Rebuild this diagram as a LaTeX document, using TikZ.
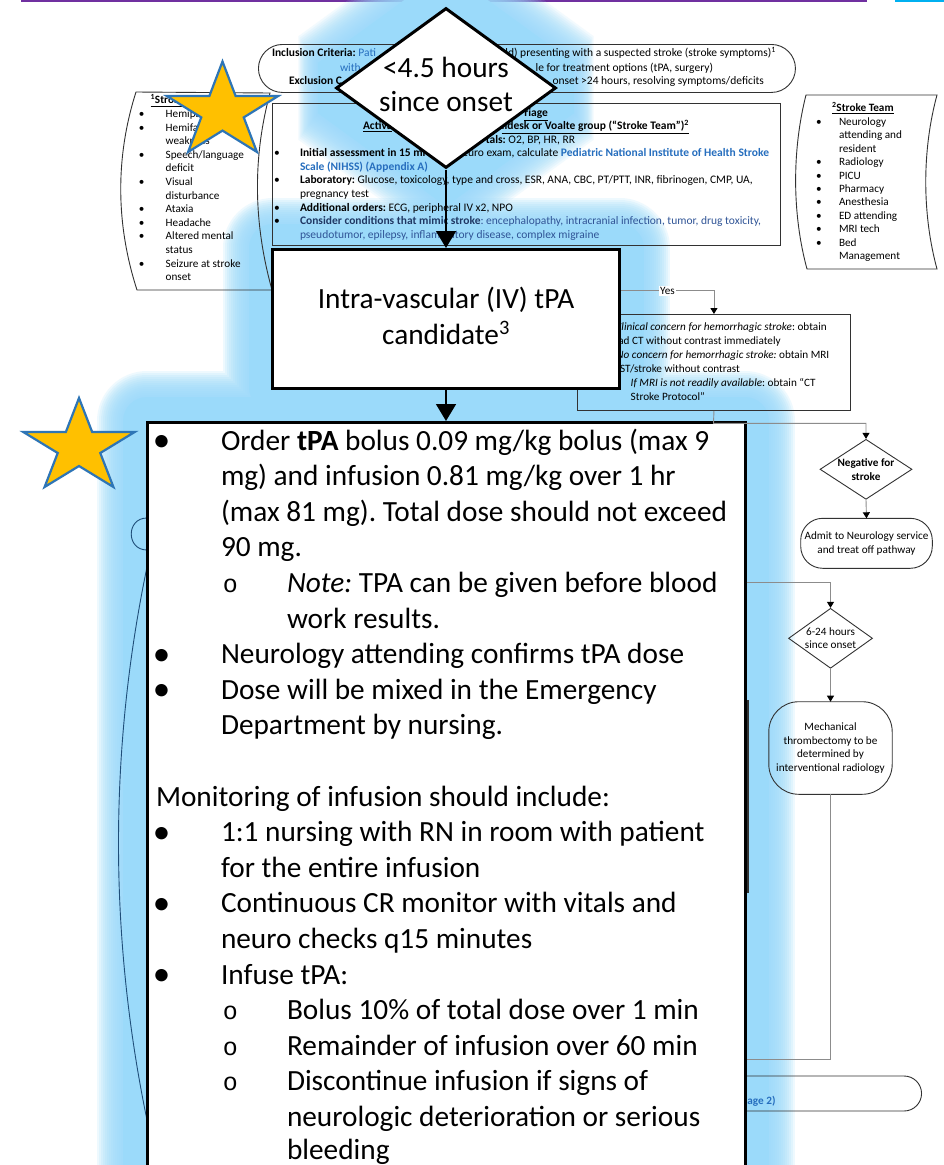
\documentclass[tikz,border=0pt]{standalone}
\usepackage{fontspec}
\setmainfont{Carlito}
\newfontfamily\couriero{Liberation Mono}
\usetikzlibrary{arrows.meta,shapes.geometric}
\frenchspacing

\definecolor{glowblue}{RGB}{155,218,250}
\definecolor{starfill}{RGB}{255,192,0}
\definecolor{starline}{RGB}{46,117,182}
\definecolor{linkblue}{RGB}{38,110,190}
\definecolor{navyblue}{RGB}{31,56,100}
\definecolor{midblue}{RGB}{47,84,150}
\definecolor{purplebar}{RGB}{112,48,160}
\definecolor{cyanbar}{RGB}{0,176,240}
\definecolor{chartgray}{RGB}{50,50,50}
\definecolor{conngray}{RGB}{140,140,140}
\definecolor{tealline}{RGB}{31,78,121}

\newcommand\smf{\fontsize{11.2}{13.6}\selectfont}
\newcommand\trf{\fontsize{11.5}{13.6}\selectfont}
\newcommand\bgf{\fontsize{29.3}{35.6}\selectfont}
\newcommand\bgbul{{\fontsize{35}{35}\selectfont\textbullet}}
\newcommand\bgsub{{\couriero\fontsize{25}{25}\selectfont o}}

\begin{document}
\begin{tikzpicture}[x=1pt,y=-1pt,
  smalltxt/.style={font=\smf, inner sep=0pt, outer sep=0pt},
  trtxt/.style={font=\trf, inner sep=0pt, outer sep=0pt},
  calltxt/.style={font=\bgf, inner sep=0pt, outer sep=0pt},
  chartline/.style={draw=chartgray, line width=0.9pt},
  conn/.style={draw=conngray, line width=0.9pt},
  tipsm/.style={-{Triangle[length=6pt,width=7pt,color=black]}},
  callout/.style={draw=black, line width=3pt, fill=white},
  bigarrow/.style={draw=black, line width=1.6pt, -{Triangle[length=17pt,width=20pt]}},
  staricon/.style={fill=starfill, draw=starline, line width=2.2pt},
  glowring/.style={draw=glowblue, draw opacity=#1},
]
\useasboundingbox (0,0) rectangle (944,1165);
\fill[white] (0,0) rectangle (944,1165);
\clip (0,0) rectangle (944,1165);

% page header rules
\fill[purplebar] (21,0) rectangle (867,2.2);
\fill[cyanbar] (895,0) rectangle (944,2.2);

% ---------- soft glow behind the highlighted steps ----------
\foreach \r in {64,62,...,32}{
  \draw[glowring=0.13, line width=2*\r, line join=miter, miter limit=1.5]
    (446,8) -- (556,88) -- (446,168) -- (336,88) -- cycle;
}
\path[fill=glowblue, draw=glowblue, line width=62, line join=miter, miter limit=1.5]
  (446,8) -- (556,88) -- (446,168) -- (336,88) -- cycle;
\foreach \r in {50,48,...,26}{
  \draw[glowring=0.16, line width=2*\r, line join=round]
    (272.5,248) rectangle (619.5,387) (147,421) rectangle (745,1300);
}
\path[fill=glowblue, draw=glowblue, line width=48, line join=round]
  (272.5,248) rectangle (619.5,387) (147,421) rectangle (745,1300);

% ---------- underlying pathway ----------
% inclusion / exclusion criteria
\node[chartline, rounded corners=24, minimum width=537, minimum height=48, anchor=north west, inner sep=0] (incl) at (258,44) {};
\node[trtxt, anchor=base west] (incA) at (272,56.8) {\textbf{Inclusion Criteria:} \textcolor{linkblue}{Pati}};
\node[trtxt, anchor=base east] (incB) at (776,56.8) {ld) presenting with a suspected stroke (stroke symptoms)\textsuperscript{1}};
\node[trtxt, anchor=base west] (incC) at (340,71.2) {\textcolor{linkblue}{with}};
\node[trtxt, anchor=base east] (incD) at (713,71.2) {le for treatment options (tPA, surgery)};
\node[trtxt, anchor=base west] (incE) at (289,84.5) {\textbf{Exclusion C}};
\node[trtxt, anchor=base east] (incF) at (764,84.5) {onset >24 hours, resolving symptoms/deficits};

% stroke symptoms panel
\draw[chartline] (136,92) -- (270,93) .. controls (252,160) and (254,225) .. (272,290)
  -- (137,290) .. controls (116,225) and (115,158) .. cycle;
\node[smalltxt, anchor=base west] (symH) at (150.5,103.5) {\underline{\textbf{\textsuperscript{1}Stroke Symptoms}}};
\foreach \k/\t in {0/Hemiparesis,1/Hemifacial,2/weakness,3/{Speech/language},4/deficit,5/Visual,6/disturbance,7/Ataxia,8/Headache,9/Altered mental,10/status,11/Seizure at stroke,12/onset}{
  \node[smalltxt, anchor=base west] (sym\k) at (165.7,117.5+13.6*\k) {\t};
}
\foreach \k in {0,1,3,5,7,8,9,11}{
  \node[smalltxt, anchor=base] (symb\k) at (141.7,117.5+13.6*\k) {\textbullet};
}

% stroke team panel
\draw[chartline] (806,95) -- (937,95) .. controls (922,150) and (922,214) .. (937,269)
  -- (807,269) .. controls (792,214) and (792,150) .. cycle;
\node[smalltxt, anchor=base west] (teamH) at (832,111.5) {\underline{\textbf{\textsuperscript{2}Stroke Team}}};
\foreach \k/\t in {0/Neurology,1/attending and,2/resident,3/Radiology,4/PICU,5/Pharmacy,6/Anesthesia,7/ED attending,8/MRI tech,9/Bed,10/Management}{
  \node[smalltxt, anchor=base west] (team\k) at (839,125.5+13.4*\k) {\t};
}
\foreach \k in {0,3,4,5,6,7,8,9}{
  \node[smalltxt, anchor=base] (teamb\k) at (819,125.5+13.4*\k) {\textbullet};
}

% triage box
\node[chartline, minimum width=508, minimum height=142, anchor=north west, inner sep=0] (triage) at (272,103.3) {};
\node[trtxt, anchor=base east] (tr0) at (548,116.5) {\underline{\textbf{riage}}};
\node[trtxt, anchor=base west] (tr1) at (363,129.5) {\underline{\textbf{Activa}}};
\node[trtxt, anchor=base east] (tr2) at (689,129.5) {\underline{\textbf{lidesk or Voalte group (“Stroke Team”)\textsuperscript{2}}}};
\node[trtxt, anchor=base east] (tr3) at (575,143) {\textbf{tals:} O2, BP, HR, RR};
\node[trtxt, anchor=base west] (tr4) at (300,156.5) {\textbf{Initial assessment in 15 mi}};
\node[trtxt, anchor=base east] (tr5) at (769,156.5) {euro exam, calculate \textcolor{linkblue}{\textbf{Pediatric National Institute of Health Stroke}}};
\node[trtxt, anchor=base west] (tr6) at (300,170) {\textcolor{linkblue}{\textbf{Scale (NIHSS) (Appendix A)}}};
\node[trtxt, anchor=base west] (tr7) at (300,183.5) {\textbf{Laboratory:} Glucose, toxicology, type and cross, ESR, ANA, CBC, PT/PTT, INR, fibrinogen, CMP, UA,};
\node[trtxt, anchor=base west] (tr8) at (300,197.5) {pregnancy test};
\node[trtxt, anchor=base west] (tr9) at (300,211) {\textbf{Additional orders:} ECG, peripheral IV x2, NPO};
\node[trtxt, anchor=base west] (tr10) at (300,224.5) {\textcolor{navyblue}{\textbf{Consider conditions that mimic stroke}}\textcolor{midblue}{: encephalopathy, intracranial infection, tumor, drug toxicity,}};
\node[trtxt, anchor=base west] (tr11) at (300,238.5) {\textcolor{midblue}{pseudotumor, epilepsy, inflammatory disease, complex migraine}};
\foreach \y [count=\i] in {156.5,183.5,211,224.5}{
  \node[trtxt, anchor=base] (trb\i) at (277,\y) {\textbullet};
}

% imaging box
\node[chartline, minimum width=273, minimum height=96, anchor=north west, inner sep=0] (imaging) at (577,314) {};
\node[smalltxt, anchor=base east] (im1) at (826.7,330.8) {\textit{Clinical concern for hemorrhagic stroke}: obtain};
\node[smalltxt, anchor=base east] (im2) at (780.7,344.5) {head CT without contrast immediately};
\node[smalltxt, anchor=base east] (im3) at (829.3,358.5) {\textit{No concern for hemorrhagic stroke:} obtain MRI};
\node[smalltxt, anchor=base east] (im4) at (740,372.5) {ST/stroke without contrast};
\node[smalltxt, anchor=base west] (im5) at (630.7,386.2) {\textit{If MRI is not readily available}: obtain “CT};
\node[smalltxt, anchor=base west] (im6) at (630.7,400.2) {Stroke Protocol”};

% right-hand branch
\node[chartline, diamond, minimum width=92, minimum height=60, inner sep=0] (neg) at (866,469.3) {};
\node[smalltxt, align=center, font=\smf\bfseries] (negtxt) at (866,469.3) {Negative for\\stroke};
\node[chartline, rounded corners=22, minimum width=131.6, minimum height=50, inner sep=0, smalltxt, align=center] (admit) at (866.5,543.3) {Admit to Neurology service\\and treat off pathway};
\node[chartline, diamond, minimum width=84, minimum height=60, inner sep=0] (hrs) at (830.5,638.3) {};
\node[smalltxt, align=center] (hrstxt) at (830.5,638.3) {6-24 hours\\since onset};
\node[chartline, rounded corners=30, minimum width=123.4, minimum height=92.6, inner sep=0, smalltxt, align=center] (mech) at (830.5,748) {Mechanical\\thrombectomy to be\\determined by\\interventional radiology};
\node[chartline, rounded corners=17.5, minimum width=350, minimum height=35, inner sep=0, anchor=east] (nextpage) at (922,1093.5) {};
\node[smalltxt, anchor=base east] (nexttxt) at (775.5,1104.5) {\textcolor{linkblue}{\textbf{page 2)}}};

% left-hand remnants
\draw[tealline, line width=0.9pt] (147,518) .. controls (126,518) and (126,550) .. (147,550);
\draw[tealline, line width=0.9pt] (147,567) .. controls (109,750) and (109,936) .. (147,1120);
\draw[chartline, line width=1.2pt] (748,700) -- (748,893);

% ---------- highlighted steps ----------
\node[callout, diamond, minimum width=220, minimum height=160, inner sep=0] (onset) at (446,88) {};
\node[calltxt, anchor=base] (onsetA) at (446,77) {<4.5 hours};
\node[calltxt, anchor=base] (onsetB) at (446,111) {since onset};

\node[callout, minimum width=347, minimum height=139, inner sep=0, anchor=north] (ivbox) at (446,248) {};
\node[calltxt, anchor=base] (ivA) at (446,308.3) {Intra-vascular (IV) tPA};
\node[calltxt, anchor=base] (ivB) at (446,344) {candidate\textsuperscript{3}};

\node[callout, minimum width=598, minimum height=820, inner sep=0, anchor=north] (dosebox) at (446,421) {};

% connectors
\draw[bigarrow] (onset.south) -- (ivbox.north);
\draw[bigarrow] (ivbox.south) -- (dosebox.north);
\draw[conn, tipsm] (ivbox.east |- 0,290.7) -| node[pos=0.25, fill=white, smalltxt, inner sep=1.5pt] (yes) {Yes} (imaging.north);
\draw[conn, tipsm] (imaging.south) -- (713.5,423.3) -| (neg.north);
\draw[conn] (dosebox.east |- 0,423.3) -- (713.5,423.3);
\draw[conn, tipsm] (neg.south) -- (admit.north);
\draw[conn, tipsm] (dosebox.east |- 0,582.7) -| (hrs.north);
\draw[conn, tipsm] (hrs.south) -- (mech.north);
\draw[conn] (mech.south) |- (dosebox.east |- 0,1059);

% dose instructions
\foreach \y [count=\i] in {450,663.6,699.2,841.6,912.8,984}{
  \node[calltxt, anchor=base] (bul\i) at (161.7,\y+1.5) {\bgbul};
}
\foreach \y [count=\i] in {592.4,1019.6,1055.2,1090.8}{
  \node[calltxt, anchor=base] (sub\i) at (230.3,\y) {\bgsub};
}
\node[calltxt, anchor=base west] (d0) at (221,450) {Order \textbf{tPA} bolus 0.09 mg/kg bolus (max 9};
\node[calltxt, anchor=base west] (d1) at (221,485.6) {mg) and infusion 0.81 mg/kg over 1 hr};
\node[calltxt, anchor=base west] (d2) at (221,521.2) {(max 81 mg). Total dose should not exceed};
\node[calltxt, anchor=base west] (d3) at (221,556.8) {90 mg.};
\node[calltxt, anchor=base west] (d4) at (287,592.4) {\textit{Note:} TPA can be given before blood};
\node[calltxt, anchor=base west] (d5) at (287,628) {work results.};
\node[calltxt, anchor=base west] (d6) at (221,663.6) {Neurology attending confirms tPA dose};
\node[calltxt, anchor=base west] (d7) at (221,699.2) {Dose will be mixed in the Emergency};
\node[calltxt, anchor=base west] (d8) at (221,734.8) {Department by nursing.};
\node[calltxt, anchor=base west] (d10) at (156,806) {Monitoring of infusion should include:};
\node[calltxt, anchor=base west] (d11) at (221,841.6) {1:1 nursing with RN in room with patient};
\node[calltxt, anchor=base west] (d12) at (221,877.2) {for the entire infusion};
\node[calltxt, anchor=base west] (d13) at (221,912.8) {Continuous CR monitor with vitals and};
\node[calltxt, anchor=base west] (d14) at (221,948.4) {neuro checks q15 minutes};
\node[calltxt, anchor=base west] (d15) at (221,984) {Infuse tPA:};
\node[calltxt, anchor=base west] (d16) at (287,1019.6) {Bolus 10\% of total dose over 1 min};
\node[calltxt, anchor=base west] (d17) at (287,1055.2) {Remainder of infusion over 60 min};
\node[calltxt, anchor=base west] (d18) at (287,1090.8) {Discontinue infusion if signs of};
\node[calltxt, anchor=base west] (d19) at (287,1126.4) {neurologic deterioration or serious};
\node[calltxt, anchor=base west] (d20) at (287,1159) {bleeding};

% ---------- stars ----------
\draw[staricon, shift={(222.5,111.5)}, xscale=1.17]
  (-90:50) -- (-54:19.1) -- (-18:50) -- (18:19.1) -- (54:50) -- (90:19.1)
  -- (126:50) -- (162:19.1) -- (198:50) -- (234:19.1) -- cycle;
\draw[staricon, shift={(79,447.2)}, xscale=1.19]
  (-90:49.2) -- (-54:18.8) -- (-18:49.2) -- (18:18.8) -- (54:49.2) -- (90:18.8)
  -- (126:49.2) -- (162:18.8) -- (198:49.2) -- (234:18.8) -- cycle;
\end{tikzpicture}
\end{document}
